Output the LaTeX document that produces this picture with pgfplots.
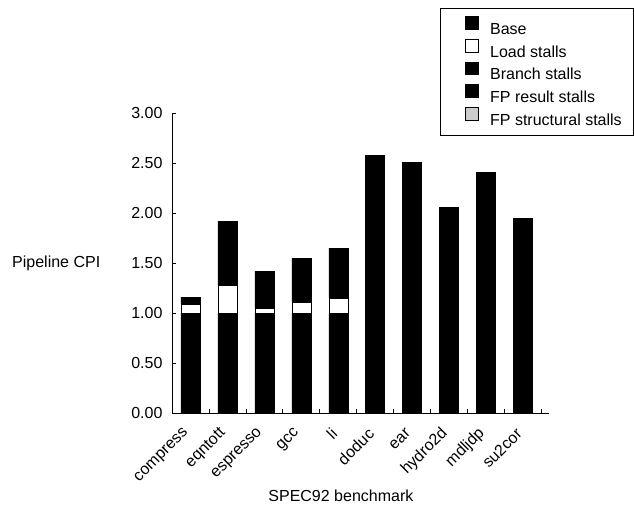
\documentclass[border=0pt]{standalone}
\usepackage{fontspec}
\setmainfont{Liberation Sans}
\usepackage{pgfplots}
\usepackage{pgfplotstable}
\pgfplotsset{compat=1.18}

% pipeline CPI split by stall source, SPEC92
\pgfplotstableread{
x name     base load branch fpres fpstruct
0 compress 1.00 0.09 0.07 0.00 0.00
1 eqntott  1.00 0.28 0.64 0.00 0.00
2 espresso 1.00 0.05 0.37 0.00 0.00
3 gcc      1.00 0.11 0.44 0.00 0.00
4 li       1.00 0.15 0.50 0.00 0.00
5 doduc    1.00 0.00 0.05 1.53 0.00
6 ear      1.00 0.00 0.02 1.49 0.00
7 hydro2d  1.00 0.00 0.04 1.02 0.00
8 mdljdp   1.00 0.00 0.05 1.36 0.00
9 su2cor   1.00 0.00 0.04 0.91 0.00
}\cpidata

\pgfplotsset{
  sq legend/.style={legend image code/.code={
    \draw[##1,line width=0.8pt] (15pt,-0.5pt) rectangle (28pt,12pt);
    \path (0pt,0pt) (37pt,0pt);}},
}

\begin{document}
\fontsize{16}{19}\selectfont
\begin{tikzpicture}
\useasboundingbox (0,0) rectangle (634pt,507pt);
\begin{axis}[
    at={(172pt,94pt)}, anchor=south west,
    scale only axis,
    width=377pt, height=300pt,
    ybar stacked,
    bar width=19pt,
    xmin=-0.5, xmax=9.7,
    ymin=0, ymax=3,
    axis x line=bottom, axis y line=left,
    axis line style={-, line width=1pt},
    xtick={0,...,9},
    xticklabels from table={\cpidata}{name},
    minor xtick={0.5,1.5,...,9.5},
    major x tick style={draw=none},
    tick align=inside,
    major tick length=4pt, minor tick length=4pt,
    tick style={line width=0.8pt, black},
    xticklabel style={xshift=-4pt, yshift=-18pt, inner sep=0pt, rotate=45, anchor=east},
    ytick={0,0.5,...,3},
    yticklabel style={xshift=-4pt,
      /pgf/number format/fixed, /pgf/number format/fixed zerofill,
      /pgf/number format/precision=2, /pgf/number format/assume math mode=true},
    xlabel={SPEC92 benchmark},
    ylabel={Pipeline CPI},
    every axis x label/.style={at={(axis description cs:0.448,-0.277)}, anchor=center},
    every axis y label/.style={at={(axis description cs:-0.4385,0.5)}, anchor=west},
    legend style={at={(axis description cs:0.711,1.35)}, anchor=north west,
      draw=black, line width=1pt, inner xsep=10pt, inner ysep=8pt,
      row sep=2.5pt, nodes={inner sep=2pt, text height=11.5pt, text depth=0pt},
      cells={anchor=west}},
    legend cell align=left,
    every axis plot/.append style={draw=black, line width=0.6pt, sq legend},
]
\addplot[fill=black] table[x=x, y=base] {\cpidata};
\addplot[fill=white] table[x=x, y=load] {\cpidata};
\addplot[fill=black] table[x=x, y=branch] {\cpidata};
\addplot[fill=black] table[x=x, y=fpres] {\cpidata};
\addplot[fill=black!20] table[x=x, y=fpstruct] {\cpidata};
\legend{Base, Load stalls, Branch stalls, FP result stalls, FP structural stalls}
\end{axis}
\end{tikzpicture}
\end{document}
